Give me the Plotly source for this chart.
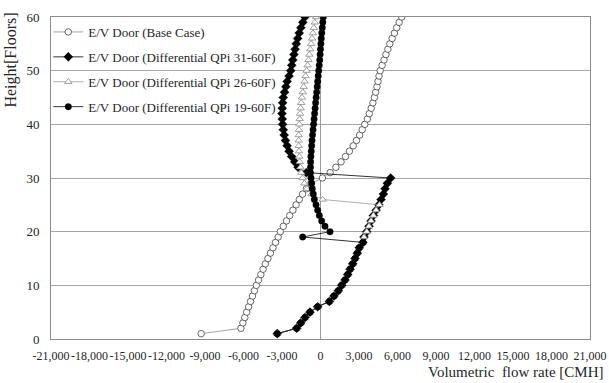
import plotly.graph_objects as go

floors = list(range(1, 61))

base_case = [-9300, -6200, -6050, -5900, -5750, -5600, -5450, -5300, -5150, -5000,
             -4820, -4650, -4470, -4300, -4100, -3900, -3700, -3500, -3300, -3130,
             -2900, -2650, -2400, -2150, -1900, -1650, -1400, -1100, -750, 150,
             750, 1200, 1600, 1950, 2250, 2550, 2800, 3050, 3250, 3450,
             3650, 3800, 3950, 4080, 4200, 4300, 4400, 4480, 4560, 4650,
             4800, 4950, 5100, 5250, 5400, 5580, 5760, 5940, 6130, 6330]

qpi_31_60 = [-3370, -1860, -1540, -1210, -820, -220, 690, 1050, 1390, 1650,
             1910, 2120, 2300, 2510, 2690, 2870, 3020, 3300, 3390, 3600,
             3780, 3940, 4120, 4330, 4550, 4720, 4900, 5030, 5210, 5470,
             -1100, -1750, -2000, -2250, -2450, -2600, -2730, -2830, -2900, -2950,
             -2980, -3000, -2980, -2950, -2900, -2800, -2700, -2600, -2450, -2320,
             -2240, -2160, -2070, -1980, -1890, -1780, -1660, -1530, -1380, -1210]

qpi_26_60 = [-3370, -1860, -1540, -1210, -820, -220, 690, 1050, 1390, 1650,
             1910, 2120, 2300, 2510, 2690, 2870, 3020, 3300, 3390, 3600,
             3780, 3940, 4120, 4330, 4600, 170, -700, -1050, -1250, -1400,
             -1500, -1570, -1620, -1650, -1680, -1700, -1700, -1700, -1680, -1650,
             -1620, -1590, -1550, -1500, -1450, -1380, -1310, -1240, -1160, -1080,
             -1010, -940, -870, -800, -730, -660, -590, -520, -440, -350]

qpi_19_60 = [-3370, -1860, -1540, -1210, -820, -220, 690, 1050, 1390, 1650,
             1910, 2120, 2300, 2510, 2690, 2870, 3020, 3320, -1390, 740,
             350, 90, -90, -220, -350, -480, -560, -640, -690, -740,
             -780, -780, -770, -750, -720, -690, -660, -620, -580, -540,
             -500, -460, -420, -380, -340, -300, -260, -220, -180, -140,
             -100, -60, -30, 0, 30, 60, 100, 140, 180, 220]

names = ["E/V Door (Base Case)",
         "E/V Door (Differential QPi 31-60F)",
         "E/V Door (Differential QPi 26-60F)",
         "E/V Door (Differential QPi 19-60F)"]

x_ticks = list(range(-21000, 21001, 3000))
y_ticks = list(range(0, 61, 10))

FONT = "Liberation Serif, Times New Roman, serif"
TXT = "#262626"

fig = go.Figure()

fig.add_trace(go.Scatter(
    x=base_case, y=floors, name=names[0], mode="lines+markers",
    line=dict(color="#8c8c8c", width=0.8),
    marker=dict(symbol="circle", size=6.5, color="white",
                line=dict(color="#404040", width=0.8)),
    legendgroup="a"))
fig.add_trace(go.Scatter(
    x=qpi_31_60, y=floors, name=names[1], mode="lines+markers",
    line=dict(color="#000000", width=0.8),
    marker=dict(symbol="diamond", size=7, color="black",
                line=dict(color="black", width=0.3)),
    legendgroup="b"))
fig.add_trace(go.Scatter(
    x=qpi_26_60, y=floors, name=names[2], mode="lines+markers",
    line=dict(color="#9a9a9a", width=0.8),
    marker=dict(symbol="triangle-up", size=6.5, color="white",
                line=dict(color="#8a8a8a", width=0.8)),
    legendgroup="c"))
fig.add_trace(go.Scatter(
    x=qpi_19_60, y=floors, name=names[3], mode="lines+markers",
    line=dict(color="#000000", width=0.8),
    marker=dict(symbol="circle", size=6.5, color="black",
                line=dict(color="black", width=0.3)),
    legendgroup="d"))

fig.update_layout(
    width=609, height=383,
    margin=dict(l=51, r=19, t=17, b=44, autoexpand=False),
    paper_bgcolor="white", plot_bgcolor="white",
    font=dict(family=FONT, size=12, color=TXT),
    showlegend=True,
    legend=dict(x=-0.005, y=1.0, xanchor="left", yanchor="top",
                bgcolor="rgba(0,0,0,0)", font=dict(family=FONT, size=13, color=TXT),
                tracegroupgap=5, itemwidth=30),
    xaxis=dict(range=[-21000, 21000], tickvals=x_ticks,
               ticktext=[f"{v:,}" for v in x_ticks], tickangle=0,
               ticklabelstandoff=6,
               showgrid=False, zeroline=True, zerolinecolor="#9a9a9a", zerolinewidth=1,
               showline=True, linecolor="#8c8c8c", linewidth=1, mirror=True,
               ticks="", tickfont=dict(size=12, family=FONT, color=TXT)),
    yaxis=dict(range=[0, 60], tickvals=y_ticks, ticklabelstandoff=8,
               showgrid=True, gridcolor="#a6a6a6", gridwidth=1,
               zeroline=False,
               showline=True, linecolor="#8c8c8c", linewidth=1, mirror=True,
               ticks="", tickfont=dict(size=13, family=FONT, color=TXT)),
    annotations=[
        dict(text="Height[Floors]", xref="paper", yref="paper",
             x=-0.074, y=0.865, xanchor="center", yanchor="middle",
             textangle=-90, showarrow=False,
             font=dict(family=FONT, size=16, color=TXT)),
        dict(text="Volumetric  flow rate [CMH]", xref="paper", yref="paper",
             x=1.03, y=-0.103, xanchor="right", yanchor="middle",
             showarrow=False, font=dict(family=FONT, size=15, color=TXT)),
    ],
)

fig.write_html("out.html")
